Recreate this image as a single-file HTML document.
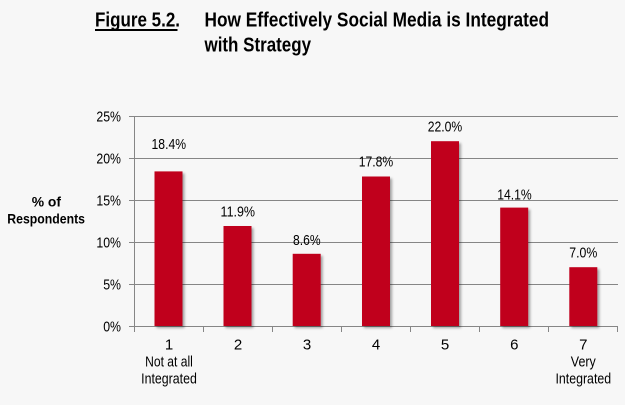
<!DOCTYPE html>
<html>
<head>
<meta charset="utf-8">
<style>
  html,body{margin:0;padding:0;background:#f7f7f7;}
  svg{display:block;}
  text{font-family:"Liberation Sans Narrow","Liberation Sans",Arial,sans-serif;fill:#000;}
  .t{font-weight:bold;font-size:20px;}
  .lab{font-size:15px;}
  .yl{font-size:14px;font-weight:bold;}
</style>
</head>
<body>
<svg width="625" height="405" viewBox="0 0 625 405" xmlns="http://www.w3.org/2000/svg">
  <defs>
    <filter id="sh" x="-30%" y="-10%" width="170%" height="130%">
      <feDropShadow dx="2" dy="2" stdDeviation="1.4" flood-color="#000" flood-opacity="0.35"/>
    </filter>
  </defs>
  <rect x="0" y="0" width="625" height="405" fill="#f7f7f7"/>

  <!-- Title -->
  <text class="t" x="95" y="26.7" textLength="85" lengthAdjust="spacingAndGlyphs">Figure 5.2.</text>
  <rect x="95" y="29" width="82.5" height="2" fill="#000"/>
  <text class="t" x="204.5" y="26.7" textLength="344.5" lengthAdjust="spacingAndGlyphs">How Effectively Social Media is Integrated</text>
  <text class="t" x="204.5" y="51.7" textLength="106.5" lengthAdjust="spacingAndGlyphs">with Strategy</text>

  <!-- Y axis title -->
  <text class="yl" x="31.7" y="206.7" textLength="29.3" lengthAdjust="spacingAndGlyphs">%  of</text>
  <text class="yl" x="7.3" y="223.3" textLength="77.7" lengthAdjust="spacingAndGlyphs">Respondents</text>

  <!-- Gridlines -->
  <g stroke="#868686" stroke-width="1" shape-rendering="crispEdges">
    <line x1="129" y1="116.5" x2="618" y2="116.5"/>
    <line x1="129" y1="158.5" x2="618" y2="158.5"/>
    <line x1="129" y1="200.5" x2="618" y2="200.5"/>
    <line x1="129" y1="242.5" x2="618" y2="242.5"/>
    <line x1="129" y1="284.5" x2="618" y2="284.5"/>
    <line x1="129" y1="326.5" x2="618" y2="326.5"/>
    <line x1="134.5" y1="116" x2="134.5" y2="332"/>
    <!-- x ticks -->
    <line x1="203.5" y1="326" x2="203.5" y2="332"/>
    <line x1="272.5" y1="326" x2="272.5" y2="332"/>
    <line x1="341.5" y1="326" x2="341.5" y2="332"/>
    <line x1="410.5" y1="326" x2="410.5" y2="332"/>
    <line x1="479.5" y1="326" x2="479.5" y2="332"/>
    <line x1="548.5" y1="326" x2="548.5" y2="332"/>
    <line x1="617.5" y1="326" x2="617.5" y2="332"/>
  </g>

  <!-- Y tick labels -->
  <g class="lab">
    <text class="lab" x="121" y="121.7" text-anchor="end" textLength="24.6" lengthAdjust="spacingAndGlyphs">25%</text>
    <text class="lab" x="121" y="163.7" text-anchor="end" textLength="24.6" lengthAdjust="spacingAndGlyphs">20%</text>
    <text class="lab" x="121" y="205.7" text-anchor="end" textLength="24.6" lengthAdjust="spacingAndGlyphs">15%</text>
    <text class="lab" x="121" y="247.7" text-anchor="end" textLength="24.6" lengthAdjust="spacingAndGlyphs">10%</text>
    <text class="lab" x="121" y="289.7" text-anchor="end" textLength="17.8" lengthAdjust="spacingAndGlyphs">5%</text>
    <text class="lab" x="121" y="331.7" text-anchor="end" textLength="17.8" lengthAdjust="spacingAndGlyphs">0%</text>
  </g>

  <!-- Bars -->
  <g fill="#c0001b" filter="url(#sh)">
    <rect x="154.5" y="171.4" width="28" height="154.6"/>
    <rect x="223.5" y="226.0" width="28" height="100.0"/>
    <rect x="292.7" y="253.8" width="28" height="72.2"/>
    <rect x="362"   y="176.5" width="28" height="149.5"/>
    <rect x="431"   y="141.2" width="28" height="184.8"/>
    <rect x="500.2" y="207.6" width="28" height="118.4"/>
    <rect x="569.3" y="267.2" width="28" height="58.8"/>
  </g>

  <!-- Data labels -->
  <text class="lab" x="168.8" y="149" text-anchor="middle" textLength="34.5" lengthAdjust="spacingAndGlyphs">18.4%</text>
  <text class="lab" x="237.8" y="216.7" text-anchor="middle" textLength="34.5" lengthAdjust="spacingAndGlyphs">11.9%</text>
  <text class="lab" x="306.8" y="245" text-anchor="middle" textLength="27.5" lengthAdjust="spacingAndGlyphs">8.6%</text>
  <text class="lab" x="376" y="166.7" text-anchor="middle" textLength="34.5" lengthAdjust="spacingAndGlyphs">17.8%</text>
  <text class="lab" x="445" y="131.7" text-anchor="middle" textLength="34.5" lengthAdjust="spacingAndGlyphs">22.0%</text>
  <text class="lab" x="514.5" y="199.3" text-anchor="middle" textLength="34.5" lengthAdjust="spacingAndGlyphs">14.1%</text>
  <text class="lab" x="583.3" y="257.7" text-anchor="middle" textLength="28" lengthAdjust="spacingAndGlyphs">7.0%</text>

  <!-- X labels -->
  <g class="lab" text-anchor="middle">
    <text class="lab" x="169" y="349.3">1</text>
    <text class="lab" x="238" y="349.3">2</text>
    <text class="lab" x="307" y="349.3">3</text>
    <text class="lab" x="376" y="349.3">4</text>
    <text class="lab" x="445" y="349.3">5</text>
    <text class="lab" x="514.3" y="349.3">6</text>
    <text class="lab" x="583.3" y="349.3">7</text>
    <text class="lab" x="169" y="366.7" textLength="47.7" lengthAdjust="spacingAndGlyphs">Not at all</text>
    <text class="lab" x="169" y="383.3" textLength="55.7" lengthAdjust="spacingAndGlyphs">Integrated</text>
    <text class="lab" x="583.3" y="366.7" textLength="25" lengthAdjust="spacingAndGlyphs">Very</text>
    <text class="lab" x="583.3" y="383.3" textLength="55.7" lengthAdjust="spacingAndGlyphs">Integrated</text>
  </g>
</svg>
</body>
</html>
